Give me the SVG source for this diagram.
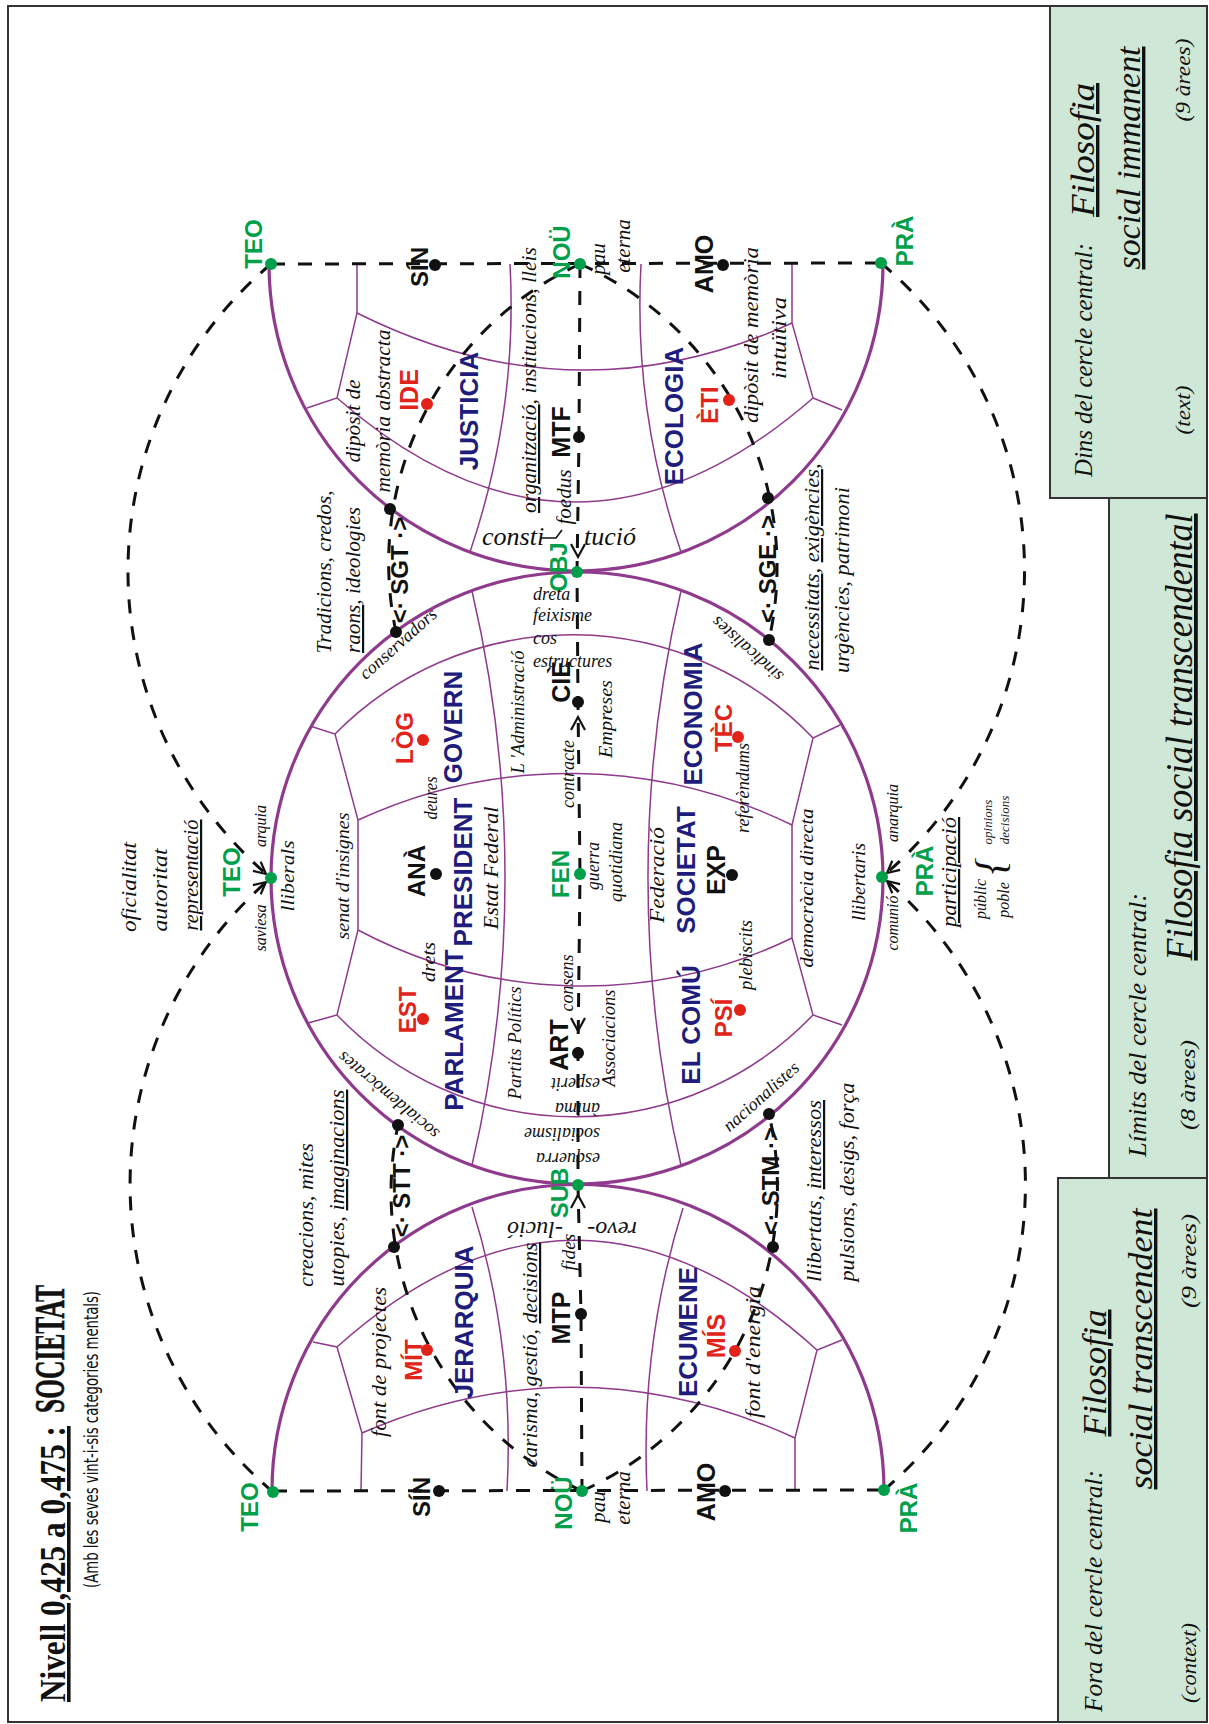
<svg xmlns="http://www.w3.org/2000/svg" width="1209" height="1724" viewBox="0 0 1209 1724">
<style>
.thick{fill:none;stroke:#8f3a8c;stroke-width:3.2}
.thin{fill:none;stroke:#8f3a8c;stroke-width:1.5}
.dash{fill:none;stroke:#111;stroke-width:3;stroke-dasharray:14 13}
.arr{fill:none;stroke:#111;stroke-width:2.2}
.box{fill:#cfe7d7;stroke:#333;stroke-width:2}
.dg{fill:#00a04b}.dk{fill:#111}.dr{fill:#e2231a}
text{font-family:"Liberation Sans",Arial,sans-serif}
.b{font-weight:bold;text-anchor:middle}
.g{fill:#00a04b}.k{fill:#111}.r{fill:#e2231a}.u{fill:#201c7c}
.i{font-family:"Liberation Serif","Times New Roman",serif;font-style:italic;fill:#111;text-anchor:middle}
.t{font-family:"Liberation Serif","Times New Roman",serif;font-weight:bold;fill:#111;text-anchor:start}
.sub{font-family:"DejaVu Sans Condensed","Liberation Sans",sans-serif;fill:#111;text-anchor:start}
.s{text-anchor:start}
.ul{text-decoration:underline}
</style>
<rect width="1209" height="1724" fill="#fff"/>
<g id="frame"><rect x="8" y="6" width="1199" height="1716" fill="none" stroke="#333" stroke-width="2"/></g>

<g id="legend">
<rect class="box" x="1050" y="6" width="157" height="492"/>
<rect class="box" x="1109" y="498" width="98" height="680"/>
<rect class="box" x="1058" y="1178" width="149" height="544"/>
<text class="i" font-size="26" textLength="234" lengthAdjust="spacingAndGlyphs" transform="translate(1092 360) rotate(-90)">Dins del cercle central:</text>
<text class="i" font-size="34" textLength="134" lengthAdjust="spacingAndGlyphs" transform="translate(1094 150) rotate(-90)"><tspan class="ul">Filosofia</tspan></text>
<text class="i" font-size="34" textLength="223" lengthAdjust="spacingAndGlyphs" transform="translate(1140 158) rotate(-90)"><tspan class="ul">social  immanent</tspan></text>
<text class="i" font-size="22" textLength="83" lengthAdjust="spacingAndGlyphs" transform="translate(1190 80) rotate(-90)">(9 àrees)</text>
<text class="i" font-size="22" textLength="49" lengthAdjust="spacingAndGlyphs" transform="translate(1190 410) rotate(-90)">(text)</text>
<text class="i" font-size="26" textLength="264" lengthAdjust="spacingAndGlyphs" transform="translate(1146 1025) rotate(-90)">Límits del cercle central:</text>
<text class="i" font-size="38" textLength="447" lengthAdjust="spacingAndGlyphs" transform="translate(1192 737) rotate(-90)"><tspan class="ul">Filosofia social transcendental</tspan></text>
<text class="i" font-size="22" textLength="90" lengthAdjust="spacingAndGlyphs" transform="translate(1195 1085) rotate(-90)">(8 àrees)</text>
<text class="i" font-size="26" textLength="242" lengthAdjust="spacingAndGlyphs" transform="translate(1102 1591) rotate(-90)">Fora del cercle central:</text>
<text class="i" font-size="34" textLength="127" lengthAdjust="spacingAndGlyphs" transform="translate(1106 1373) rotate(-90)"><tspan class="ul">Filosofia</tspan></text>
<text class="i" font-size="34" textLength="281" lengthAdjust="spacingAndGlyphs" transform="translate(1152 1349) rotate(-90)"><tspan class="ul">social  transcendent</tspan></text>
<text class="i" font-size="22" textLength="94" lengthAdjust="spacingAndGlyphs" transform="translate(1196 1261) rotate(-90)">(9 àrees)</text>
<text class="i" font-size="22" textLength="80" lengthAdjust="spacingAndGlyphs" transform="translate(1196 1663) rotate(-90)">(context)</text>
</g>

<g id="title">
<text class="t" font-size="36" textLength="276" lengthAdjust="spacingAndGlyphs" transform="translate(65 1702) rotate(-90)"><tspan class="ul">Nivell 0,425 a 0,475 :</tspan></text>
<text class="t" font-size="42" stroke="#111" stroke-width="0.6" textLength="128" lengthAdjust="spacingAndGlyphs" transform="translate(64 1413) rotate(-90)">SOCIETAT</text>
<text class="sub" font-size="19" textLength="297" lengthAdjust="spacingAndGlyphs" transform="translate(98 1588) rotate(-90)">(Amb les seves vint-i-sis categories mentals)</text>
</g>

<g id="regions">
<circle class="thick" cx="577" cy="878" r="306"/>
<path class="thick" d="M269,264 A307,307 0 0 0 883,264"/>
<path class="thick" d="M272,1491 A306,306 0 0 1 884,1490"/>
<path class="thin" d="M472,591 A1264,1264 0 0 1 472,1165"/>
<path class="thin" d="M681,591 A1264,1264 0 0 0 681,1165"/>
<path class="thin" d="M335,734 A333,333 0 0 1 813,738"/>
<path class="thin" d="M358,820 A505,505 0 0 1 792,825"/>
<path class="thin" d="M358,930 A479,479 0 0 0 792,938"/>
<path class="thin" d="M337,1015 A329,329 0 0 0 813,1015"/>
<path class="thin" d="M310,726 L335,734 L358,820 L358,930 L337,1015 L308,1023"/>
<path class="thin" d="M840,725 L813,738 L792,825 L792,938 L813,1015 L842,1025"/>
<path class="thin" d="M510,264 Q518,410 470,552"/>
<path class="thin" d="M641,264 Q633,410 681,552"/>
<path class="thin" d="M357,313 Q575,422 792,323"/>
<path class="thin" d="M337,398 Q575,606 813,398"/>
<path class="thin" d="M357,264 L357,313 L337,398 L307,408"/>
<path class="thin" d="M792,264 L792,323 L813,398 L842,410"/>
<path class="thin" d="M507,1491 Q515,1345 472,1207"/>
<path class="thin" d="M647,1491 Q640,1345 683,1208"/>
<path class="thin" d="M337,1347 Q577,1132 817,1350"/>
<path class="thin" d="M362,1433 Q578,1339 795,1438"/>
<path class="thin" d="M313,1342 L337,1347 L362,1433 L361,1491"/>
<path class="thin" d="M842,1340 L817,1350 L795,1438 L795,1491"/>
</g>

<g id="connectors">
<path class="dash" d="M271,264 L881,263"/>
<path class="dash" d="M273,1491 L884,1490"/>
<path class="dash" d="M580,264 L579,437 L577,572 L578,702 L580,874 L578,1053 L578,1185 L581,1314 L582,1491"/>
<path class="dash" d="M271,264 A401,401 0 0 0 271,878"/>
<path class="dash" d="M273,1492 A403,403 0 0 1 271,878"/>
<path class="dash" d="M881,263 A401,401 0 0 1 882,877"/>
<path class="dash" d="M884,1490 A401,401 0 0 0 882,877"/>
<path class="dash" d="M580,264 A329,329 0 0 0 396,632"/>
<path class="dash" d="M580,264 A332,332 0 0 1 769,640"/>
<path class="dash" d="M582,1491 A329,329 0 0 1 398,1125"/>
<path class="dash" d="M582,1491 A332,332 0 0 0 769,1114"/>
<path class="arr" d="M571,544 L578,557 L585,544"/>
<path class="arr" d="M571,730 L578,717 L585,730"/>
<path class="arr" d="M571,1018 L578,1031 L585,1018"/>
<path class="arr" d="M571,1208 L578,1195 L585,1208"/>
<path class="arr" d="M252.9,870.9 L266,874 L260.7,861.7"/>
<path class="arr" d="M252.9,885.1 L266,882 L260.7,894.3"/>
<path class="arr" d="M900.1,869.9 L887,873 L892.3,860.7"/>
<path class="arr" d="M892.3,893.3 L887,881 L900.1,884.1"/>
<path d="M540,538 L556,538 L562,530" fill="none" stroke="#111" stroke-width="1.6"/>
</g>

<g id="node-TEO-top"><circle class="dg" cx="271" cy="264" r="6"/><text class="b g" font-size="24" transform="translate(262 244) rotate(-90)">TEO</text></g>
<g id="node-PRA-top"><circle class="dg" cx="881" cy="263" r="6"/><text class="b g" font-size="24" transform="translate(913 241) rotate(-90)">PRÀ</text></g>
<g id="node-NOU-top"><circle class="dg" cx="580" cy="264" r="6"/><text class="b g" font-size="24" transform="translate(570 252) rotate(-90)">NOÜ</text>
<text class="i" font-size="21" transform="translate(605 259) rotate(-90)">pau</text><text class="i" font-size="21" transform="translate(630 246) rotate(-90)">eterna</text></g>
<g id="node-SIN-top"><circle class="dk" cx="435" cy="265" r="6"/><text class="b k" font-size="24" transform="translate(428 267) rotate(-90)">SÍN</text></g>
<g id="node-AMO-top"><circle class="dk" cx="723" cy="265" r="6"/><text class="b k" font-size="25" transform="translate(713 264) rotate(-90)">AMO</text></g>
<g id="node-IDE"><circle class="dr" cx="427" cy="404" r="6"/><text class="b r" font-size="25" transform="translate(418 390) rotate(-90)">IDE</text></g>
<g id="node-ETI"><circle class="dr" cx="729" cy="400" r="6"/><text class="b r" font-size="24" transform="translate(718 405) rotate(-90)">ÈTI</text></g>
<g id="node-MTF"><circle class="dk" cx="579" cy="437" r="6"/><text class="b k" font-size="25" transform="translate(570 432) rotate(-90)">MTF</text></g>
<g id="area-JUSTICIA"><text class="b u" font-size="26" transform="translate(478 411) rotate(-90)">JUSTICIA</text></g>
<g id="area-ECOLOGIA"><text class="b u" font-size="26" transform="translate(683 416) rotate(-90)">ECOLOGIA</text></g>
<g id="texts-top">
<text class="i" font-size="22" textLength="83" lengthAdjust="spacingAndGlyphs" transform="translate(360 421) rotate(-90)">dipòsit de</text>
<text class="i" font-size="22" textLength="163" lengthAdjust="spacingAndGlyphs" transform="translate(390 411) rotate(-90)">memòria abstracta</text>
<text class="i" font-size="22" textLength="176" lengthAdjust="spacingAndGlyphs" transform="translate(758 335) rotate(-90)">dipòsit de memòria</text>
<text class="i" font-size="22" textLength="82" lengthAdjust="spacingAndGlyphs" transform="translate(786 338) rotate(-90)">intuïtiva</text>
<text class="i" font-size="22" textLength="266" lengthAdjust="spacingAndGlyphs" transform="translate(536 380) rotate(-90)"><tspan class="ul">organització</tspan>, institucions, lleis</text>
<text class="i" font-size="20" textLength="55" lengthAdjust="spacingAndGlyphs" transform="translate(571 497) rotate(-90)">foedus</text>
<text class="i s" font-size="26" x="482" y="545">consti</text>
<text class="i s" font-size="26" x="584" y="545">tució</text>
<text class="i" font-size="22" textLength="163" lengthAdjust="spacingAndGlyphs" transform="translate(331 572) rotate(-90)">Tradicions, credos,</text>
<text class="i" font-size="22" textLength="146" lengthAdjust="spacingAndGlyphs" transform="translate(360 580) rotate(-90)"><tspan class="ul">raons</tspan>, ideologies</text>
<text class="i" font-size="22" textLength="207" lengthAdjust="spacingAndGlyphs" transform="translate(819 567) rotate(-90)"><tspan class="ul">necessitats</tspan>, <tspan class="ul">exigències</tspan>,</text>
<text class="i" font-size="22" textLength="186" lengthAdjust="spacingAndGlyphs" transform="translate(849 580) rotate(-90)">urgències, patrimoni</text>
</g>
<g id="node-SGT"><circle class="dk" cx="390" cy="509" r="6"/><circle class="dk" cx="396" cy="632" r="6"/><text class="b k" font-size="24" transform="translate(408 570) rotate(-90)">&lt;· SGT ·&gt;</text></g>
<g id="node-SGE"><circle class="dk" cx="768" cy="498" r="6"/><circle class="dk" cx="769" cy="640" r="6"/><text class="b k" font-size="24" transform="translate(776 569) rotate(-90)">&lt;· SGE ·&gt;</text></g>

<g id="node-OBJ"><circle class="dg" cx="577" cy="572" r="6"/><text class="b g" font-size="24" transform="translate(567 567) rotate(-90)">OBJ</text></g>
<g id="texts-center">
<text class="i s" font-size="18" x="533" y="600">dreta</text>
<text class="i s" font-size="18" x="533" y="621">feixisme</text>
<text class="i s" font-size="18" x="533" y="644">cos</text>
<text class="i s" font-size="18" x="533" y="667">estructures</text>
<text class="i" font-size="18" transform="translate(402 648) rotate(-41.6)">conservadors</text>
<text class="i" font-size="18" transform="translate(751 645) rotate(-138.4)">sindicalistes</text>
<text class="i" font-size="18" transform="translate(392 1091) rotate(-140)">socialdemòcrates</text>
<text class="i" font-size="18" transform="translate(765 1101) rotate(-41.6)">nacionalistes</text>
<text class="i" font-size="18" textLength="127" lengthAdjust="spacingAndGlyphs" transform="translate(349 876) rotate(-90)">senat d'insignes</text>
<text class="i" font-size="18" textLength="159" lengthAdjust="spacingAndGlyphs" transform="translate(813 888) rotate(-90)">democràcia directa</text>
<text class="i" font-size="18" textLength="71" lengthAdjust="spacingAndGlyphs" transform="translate(294 876) rotate(-90)">lliberals</text>
<text class="i" font-size="18" textLength="78" lengthAdjust="spacingAndGlyphs" transform="translate(865 882) rotate(-90)">llibertaris</text>
<text class="i" font-size="19" textLength="123" lengthAdjust="spacingAndGlyphs" transform="translate(524 712) rotate(-90)">L 'Administració</text>
<text class="i" font-size="19" textLength="68" lengthAdjust="spacingAndGlyphs" transform="translate(574 774) rotate(-90)">contracte</text>
<text class="i" font-size="19" textLength="78" lengthAdjust="spacingAndGlyphs" transform="translate(612 719) rotate(-90)">Empreses</text>
<text class="i" font-size="18" textLength="43" lengthAdjust="spacingAndGlyphs" transform="translate(437 798) rotate(-90)">deures</text>
<text class="i" font-size="18" textLength="90" lengthAdjust="spacingAndGlyphs" transform="translate(749 788) rotate(-90)">referèndums</text>
<text class="i" font-size="22" textLength="123" lengthAdjust="spacingAndGlyphs" transform="translate(498 868) rotate(-90)">Estat Federal</text>
<text class="i" font-size="19" textLength="48" lengthAdjust="spacingAndGlyphs" transform="translate(599 866) rotate(-90)">guerra</text>
<text class="i" font-size="19" textLength="80" lengthAdjust="spacingAndGlyphs" transform="translate(622 862) rotate(-90)">quotidiana</text>
<text class="i" font-size="21" textLength="96" lengthAdjust="spacingAndGlyphs" transform="translate(664 875) rotate(-90)">Federació</text>
<text class="i" font-size="19" textLength="113" lengthAdjust="spacingAndGlyphs" transform="translate(521 1043) rotate(-90)">Partits Polítics</text>
<text class="i" font-size="19" textLength="57" lengthAdjust="spacingAndGlyphs" transform="translate(573 983) rotate(-90)">consens</text>
<text class="i" font-size="19" textLength="97" lengthAdjust="spacingAndGlyphs" transform="translate(615 1038) rotate(-90)">Associacions</text>
<text class="i" font-size="18" textLength="40" lengthAdjust="spacingAndGlyphs" transform="translate(435 962) rotate(-90)">drets</text>
<text class="i" font-size="18" textLength="70" lengthAdjust="spacingAndGlyphs" transform="translate(752 955) rotate(-90)">plebiscits</text>
<text class="i s" font-size="18" transform="translate(600 1078) rotate(180)" style="text-anchor:start">esperit</text>
<text class="i s" font-size="18" transform="translate(600 1103) rotate(180)" style="text-anchor:start">ànima</text>
<text class="i s" font-size="18" transform="translate(600 1128) rotate(180)" style="text-anchor:start">socialisme</text>
<text class="i s" font-size="18" transform="translate(600 1153) rotate(180)" style="text-anchor:start">esquerra</text>
</g>
<g id="node-LOG"><circle class="dr" cx="423" cy="740" r="6"/><text class="b r" font-size="24" transform="translate(413 738) rotate(-90)">LÒG</text></g>
<g id="node-CIE"><circle class="dk" cx="578" cy="702" r="6"/><text class="b k" font-size="25" transform="translate(570 682) rotate(-90)">CIÈ</text></g>
<g id="node-TEC"><circle class="dr" cx="738" cy="737" r="6"/><text class="b r" font-size="24" transform="translate(732 728) rotate(-90)">TÈC</text></g>
<g id="area-GOVERN"><text class="b u" font-size="26" transform="translate(462 727) rotate(-90)">GOVERN</text></g>
<g id="area-ECONOMIA"><text class="b u" font-size="26" transform="translate(702 714) rotate(-90)">ECONOMIA</text></g>
<g id="node-TEO-mid"><circle class="dg" cx="271" cy="878" r="6"/><text class="b g" font-size="24" transform="translate(240 872) rotate(-90)">TEO</text>
<text class="i" font-size="16" transform="translate(266 826) rotate(-90)">arquia</text>
<text class="i" font-size="16" transform="translate(266 928) rotate(-90)">saviesa</text></g>
<g id="texts-left">
<text class="i" font-size="22" textLength="90" lengthAdjust="spacingAndGlyphs" transform="translate(136 887) rotate(-90)">oficialitat</text>
<text class="i" font-size="22" textLength="83" lengthAdjust="spacingAndGlyphs" transform="translate(167 890) rotate(-90)">autoritat</text>
<text class="i" font-size="22" textLength="111" lengthAdjust="spacingAndGlyphs" transform="translate(198 875) rotate(-90)"><tspan class="ul">representació</tspan></text>
</g>
<g id="node-ANA"><circle class="dk" cx="436" cy="874" r="6"/><text class="b k" font-size="24" transform="translate(425 871) rotate(-90)">ANÀ</text></g>
<g id="area-PRESIDENT"><text class="b u" font-size="26" transform="translate(472 872) rotate(-90)">PRESIDENT</text></g>
<g id="node-FEN"><circle class="dg" cx="580" cy="874" r="6"/><text class="b g" font-size="24" transform="translate(569 874) rotate(-90)">FEN</text></g>
<g id="area-SOCIETAT"><text class="b u" font-size="26" transform="translate(695 870) rotate(-90)">SOCIETAT</text></g>
<g id="node-EXP"><circle class="dk" cx="732" cy="875" r="6"/><text class="b k" font-size="25" transform="translate(725 870) rotate(-90)">EXP</text></g>
<g id="node-PRA-mid"><circle class="dg" cx="882" cy="877" r="6"/><text class="b g" font-size="24" transform="translate(933 871) rotate(-90)">PRÀ</text>
<text class="i" font-size="16" transform="translate(898 813) rotate(-90)">anarquia</text>
<text class="i" font-size="16" transform="translate(898 923) rotate(-90)">comunió</text></g>
<g id="texts-right">
<text class="i" font-size="22" textLength="110" lengthAdjust="spacingAndGlyphs" transform="translate(956 872) rotate(-90)"><tspan class="ul">participació</tspan></text>
<text class="i" font-size="16" transform="translate(986 899) rotate(-90)">públic</text>
<text class="i" font-size="16" transform="translate(1009 900) rotate(-90)">poble</text>
<text class="i" font-size="42" transform="translate(1004 866) rotate(-90)">{</text>
<text class="i" font-size="13" transform="translate(992 822) rotate(-90)">opinions</text>
<text class="i" font-size="13" transform="translate(1009 820) rotate(-90)">decisions</text>
</g>
<g id="node-EST"><circle class="dr" cx="423" cy="1019" r="6"/><text class="b r" font-size="24" transform="translate(416 1010) rotate(-90)">EST</text></g>
<g id="node-ART"><circle class="dk" cx="578" cy="1053" r="6"/><text class="b k" font-size="25" transform="translate(568 1045) rotate(-90)">ART</text></g>
<g id="node-PSI"><circle class="dr" cx="740" cy="1010" r="6"/><text class="b r" font-size="24" transform="translate(732 1018) rotate(-90)">PSÍ</text></g>
<g id="area-PARLAMENT"><text class="b u" font-size="26" transform="translate(463 1030) rotate(-90)">PARLAMENT</text></g>
<g id="area-ELCOMU"><text class="b u" font-size="26" transform="translate(700 1025) rotate(-90)">EL COMÚ</text></g>
<g id="node-SUB"><circle class="dg" cx="578" cy="1185" r="6"/><text class="b g" font-size="24" transform="translate(568 1193) rotate(-90)">SUB</text></g>
<g id="node-STT"><circle class="dk" cx="398" cy="1125" r="6"/><circle class="dk" cx="394" cy="1247" r="6"/><text class="b k" font-size="24" transform="translate(410 1186) rotate(-90)">&lt;· STT ·&gt;</text></g>
<g id="node-STM"><circle class="dk" cx="769" cy="1114" r="6"/><circle class="dk" cx="773" cy="1247" r="6"/><text class="b k" font-size="24" transform="translate(779 1181) rotate(-90)">&lt;· STM ·&gt;</text></g>
<g id="texts-bottom">
<text class="i" font-size="22" textLength="144" lengthAdjust="spacingAndGlyphs" transform="translate(313 1215) rotate(-90)">creacions, mites</text>
<text class="i" font-size="22" textLength="197" lengthAdjust="spacingAndGlyphs" transform="translate(344 1188) rotate(-90)">utopies, <tspan class="ul">imaginacions</tspan></text>
<text class="i" font-size="22" textLength="182" lengthAdjust="spacingAndGlyphs" transform="translate(821 1191) rotate(-90)">llibertats, <tspan class="ul">interessos</tspan></text>
<text class="i" font-size="22" textLength="199" lengthAdjust="spacingAndGlyphs" transform="translate(854 1182) rotate(-90)">pulsions, desigs, força</text>
<text class="i s" font-size="24" transform="translate(637 1222) rotate(180)" style="text-anchor:start">revo-</text>
<text class="i s" font-size="24" transform="translate(563 1222) rotate(180)" style="text-anchor:start">-lució</text>
<text class="i" font-size="19" textLength="37" lengthAdjust="spacingAndGlyphs" transform="translate(575 1252) rotate(-90)">fides</text>
<text class="i" font-size="22" textLength="150" lengthAdjust="spacingAndGlyphs" transform="translate(386 1362) rotate(-90)">font de projectes</text>
<text class="i" font-size="22" textLength="225" lengthAdjust="spacingAndGlyphs" transform="translate(537 1355) rotate(-90)">carisma, gestió, <tspan class="ul">decisions</tspan></text>
<text class="i" font-size="22" textLength="132" lengthAdjust="spacingAndGlyphs" transform="translate(760 1352) rotate(-90)">font d'energia</text>
</g>
<g id="area-JERARQUIA"><text class="b u" font-size="26" transform="translate(473 1322) rotate(-90)">JERARQUIA</text></g>
<g id="area-ECUMENE"><text class="b u" font-size="26" transform="translate(697 1332) rotate(-90)">ECUMENE</text></g>
<g id="node-MIT"><circle class="dr" cx="427" cy="1350" r="6"/><text class="b r" font-size="24" transform="translate(422 1360) rotate(-90)">MÍT</text></g>
<g id="node-MIS"><circle class="dr" cx="735" cy="1351" r="6"/><text class="b r" font-size="25" transform="translate(725 1336) rotate(-90)">MÍS</text></g>
<g id="node-MTP"><circle class="dk" cx="581" cy="1314" r="6"/><text class="b k" font-size="25" transform="translate(570 1318) rotate(-90)">MTP</text></g>
<g id="node-TEO-bottom"><circle class="dg" cx="273" cy="1492" r="6"/><text class="b g" font-size="24" transform="translate(258 1507) rotate(-90)">TEO</text></g>
<g id="node-SIN-bottom"><circle class="dk" cx="439" cy="1491" r="6"/><text class="b k" font-size="24" transform="translate(430 1497) rotate(-90)">SÍN</text></g>
<g id="node-NOU-bottom"><circle class="dg" cx="582" cy="1491" r="6"/><text class="b g" font-size="24" transform="translate(572 1503) rotate(-90)">NOÜ</text>
<text class="i" font-size="21" transform="translate(605 1507) rotate(-90)">pau</text><text class="i" font-size="21" transform="translate(630 1498) rotate(-90)">eterna</text></g>
<g id="node-AMO-bottom"><circle class="dk" cx="725" cy="1491" r="6"/><text class="b k" font-size="25" transform="translate(715 1492) rotate(-90)">AMO</text></g>
<g id="node-PRA-bottom"><circle class="dg" cx="884" cy="1490" r="6"/><text class="b g" font-size="24" transform="translate(917 1508) rotate(-90)">PRÀ</text></g>
</svg>
